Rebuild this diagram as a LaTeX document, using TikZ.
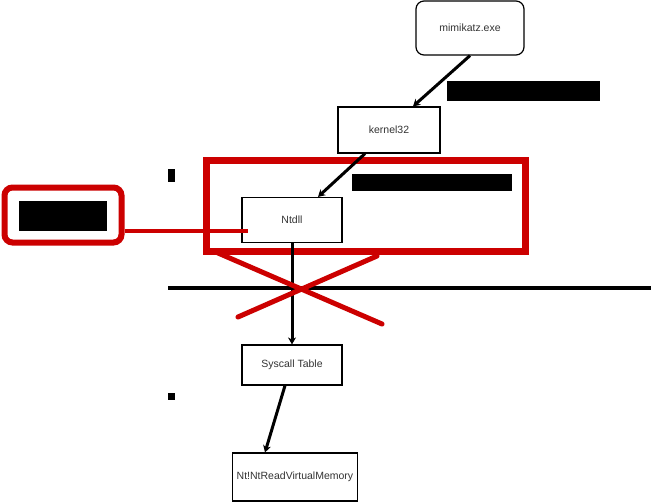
\documentclass[tikz,border=0pt]{standalone}
\usepackage{fontspec}
\setmainfont{Liberation Sans}
\usetikzlibrary{positioning, arrows.meta}
\definecolor{alarm}{RGB}{204,0,0}
\tikzstyle{box} = [draw=black, line width=1.2pt, rectangle, fill=white, text=black!80, font=\fontsize{10.5}{12}\selectfont, minimum width=100pt, minimum height=45pt, inner sep=2pt]
\tikzstyle{blob} = [fill=black, draw=none, rectangle, inner sep=0pt]
\tikzstyle{call} = [-{Stealth[length=7pt, width=8pt]}, line width=3pt, black]

\begin{document}
\begin{tikzpicture}[x=1pt, y=-1pt, >=Stealth]

		\fill[white] (0,0) rectangle (651,503);
		\useasboundingbox (0,0) rectangle (651,503);

		% call chain
		\node[box, rounded corners=8pt, minimum width=108pt, minimum height=54pt] (mimikatz) at (470,28) {mimikatz.exe};
		\node[box, minimum width=102pt, minimum height=46pt] (kernel) at (389,130) {kernel32};
		\node[box] (ntdll) at (292,220) {Ntdll};
		\node[box, below of=ntdll, node distance=145pt, minimum height=40pt] (syscall) {Syscall Table};
		\node[box, below of=syscall, node distance=112pt, xshift=3pt, minimum width=125pt, minimum height=48pt] (ntread) {Nt!NtReadVirtualMemory};

		% hidden labels
		\node[blob, minimum width=153pt, minimum height=20pt] (labela) at (523.5,91.5) {};
		\node[blob, minimum width=160pt, minimum height=17pt] (labelb) at (432,182.5) {};
		\node[blob, minimum width=7pt, minimum height=13pt] (marka) at (171.5,175.5) {};
		\node[blob, minimum width=7pt, minimum height=7pt] (markb) at (171.5,396) {};
		\node[blob, minimum width=483pt, minimum height=4pt] (bar) at (409.5,288) {};

		% hook box
		\node[draw=alarm, line width=6pt, rounded corners=8pt, minimum width=117pt, minimum height=55pt] (hookbox) at (63,215) {};
		\node[blob, minimum width=88pt, minimum height=30pt] (hooklabel) at (hookbox.center) [yshift=-1pt] {};
		\draw[alarm, line width=7pt] (206,160) rectangle (525,251);
		\coordinate (hook) at (248,231);

		% connections
		\draw[call] (mimikatz.south) -- ([xshift=24pt]kernel.north);
		\draw[call] ([xshift=-24pt]kernel.south) -- ([xshift=26pt]ntdll.north);
		\draw[call] (ntdll.south) -- (syscall.north);
		\draw[call] ([xshift=-7pt]syscall.south) -- ([xshift=-30pt]ntread.north);
		\draw[alarm, line width=4pt] (hookbox.east |- hook) -- (hook);

		% blocked path
		\draw[alarm, line width=5pt, line cap=round] (218,253) -- (382,324);
		\draw[alarm, line width=5pt, line cap=round] (238,317) -- (377,256);

	\end{tikzpicture}
\end{document}
